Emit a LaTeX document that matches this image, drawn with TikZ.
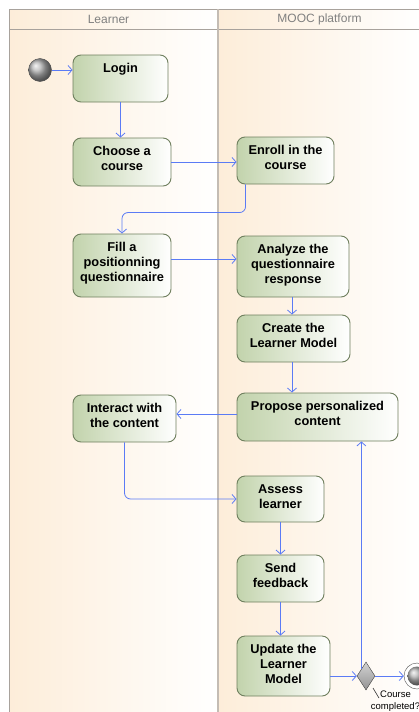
\documentclass[tikz,border=0pt]{standalone}
\usepackage{fontspec}
\setmainfont{Liberation Sans}
\usetikzlibrary{shapes.geometric,arrows.meta,calc}
\definecolor{lanepeach}{HTML}{FDEDD9}
\definecolor{nodegreen}{HTML}{C2D3AC}
\definecolor{nodeborder}{HTML}{6F7F5E}
\definecolor{arrowblue}{HTML}{5B7BF5}
\definecolor{framegray}{HTML}{A8A29C}
\definecolor{dividergray}{HTML}{C4BCB4}
\definecolor{headtext}{HTML}{808080}
\newcommand\actnode[5]{\node[act, minimum width=#3pt, minimum height=#4pt, label={[acttext]north:{#5}}] (#1) at (#2) {};}
\begin{document}
\begin{tikzpicture}[x=1pt,y=-1pt,
  act/.style={draw=nodeborder, line width=0.9pt, rounded corners=8pt, left color=nodegreen, right color=white, inner sep=0pt},
  acttext/.style={anchor=north, yshift=-8.5pt, align=center, inner sep=0pt, font=\bfseries\fontsize{12.8}{15}\selectfont},
  arr/.style={draw=arrowblue, line width=0.8pt, -{Straight Barb[length=4pt,width=9pt]}},
  lane/.style={left color=lanepeach, right color=white},
  headlbl/.style={text=headtext, font=\fontsize{12}{14}\selectfont, inner sep=0pt}
]
\useasboundingbox (0,0) rectangle (419,712);
\clip (0,0) rectangle (419,712);
\fill[white] (0,0) rectangle (419,712);
% lanes
\shade[lane] (9,29) rectangle (218,712);
\shade[lane] (218,29) rectangle (422,712);
\shade[lane] (9,9) rectangle (218,29);
\shade[lane] (218,9) rectangle (422,29);
\draw[framegray, line width=1pt] (425,9) -- (9,9) -- (9,712);
\draw[framegray, line width=1pt] (9,29) -- (425,29);
\draw[dividergray, line width=2pt] (218,9) -- (218,712);
\node[headlbl] (hl) at (108.5,19) {Learner};
\node[headlbl] (hm) at (319.5,19) {MOOC platform};
% activities
\actnode{login}{120.5,78.5}{95}{47}{Login}
\actnode{choose}{122,162}{98}{48}{Choose a\\course}
\actnode{enroll}{285.5,160.5}{97}{47}{Enroll in the\\course}
\actnode{fill}{122,265.5}{98}{63}{Fill a\\positionning\\questionnaire}
\actnode{analyze}{293,266.5}{112}{61}{Analyze the\\questionnaire\\response}
\actnode{create}{293.5,338.5}{113}{47}{Create the\\Learner Model}
\actnode{propose}{317.5,417}{161}{48}{Propose personalized\\content}
\actnode{interact}{124.5,418.5}{103}{47}{Interact with\\the content}
\actnode{assess}{280.5,499}{87}{46}{Assess\\learner}
\actnode{send}{280.5,578.5}{87}{47}{Send\\feedback}
\actnode{update}{283.5,666}{93}{60}{Update the\\Learner\\Model}
% start, decision, final
\node[circle, minimum size=23pt, inner sep=0pt, draw=black!70, shading=ball, ball color=gray!60] (start) at (40,70) {};
\node[diamond, minimum width=18pt, minimum height=28pt, inner sep=0pt, draw=black!75, top color=gray!35, bottom color=gray!85] (dia) at (366,676) {};
\node[circle, minimum size=26pt, inner sep=0pt, draw=black!70, fill=white] (final) at (417,676) {};
\node[circle, minimum size=19pt, inner sep=0pt, shading=ball, ball color=gray!60] (finalin) at (final) {};
\node[align=center, inner sep=0pt, font=\fontsize{9.5}{12}\selectfont] (cc) at (395.5,701) {Course\\completed?};
\coordinate (lead) at (373,688);
\coordinate (leadend) at (379,698);
\draw[black!80, line width=0.6pt] (lead) -- (leadend);
% helper coordinates
\coordinate (fa) at ($(fill.east)+(0,-6.5)$);
\coordinate (pi) at ($(propose.west)+(0,-3)$);
\coordinate (ef) at ($(enroll.south west)+(9,0)$);
\coordinate (efm) at ($(fill.north)+(0,-21)$);
% connectors
\draw[arr] (start.east) -- (start.east -| login.west);
\draw[arr] (login.south) -- (login.south |- choose.north);
\draw[arr] (choose.east) -- (choose.east -| enroll.west);
\draw[arr, rounded corners=6pt] (ef) |- (efm) -- (fill.north);
\draw[arr] (fa) -- (fa -| analyze.west);
\draw[arr] (analyze.south -| 292,0) -- (create.north -| 292,0);
\draw[arr] (create.south -| 292,0) -- (propose.north -| 292,0);
\draw[arr] (pi) -- (pi -| interact.east);
\draw[arr, rounded corners=6pt] (interact.south) |- (assess.west);
\draw[arr] (assess.south) -- (send.north);
\draw[arr] (send.south) -- (send.south |- update.north);
\draw[arr] (update.east |- dia.west) -- (dia.west);
\draw[arr] (dia.east) -- (final.west);
\draw[arr] (dia.north west) -- (dia.north west |- propose.south);
\end{tikzpicture}
\end{document}
